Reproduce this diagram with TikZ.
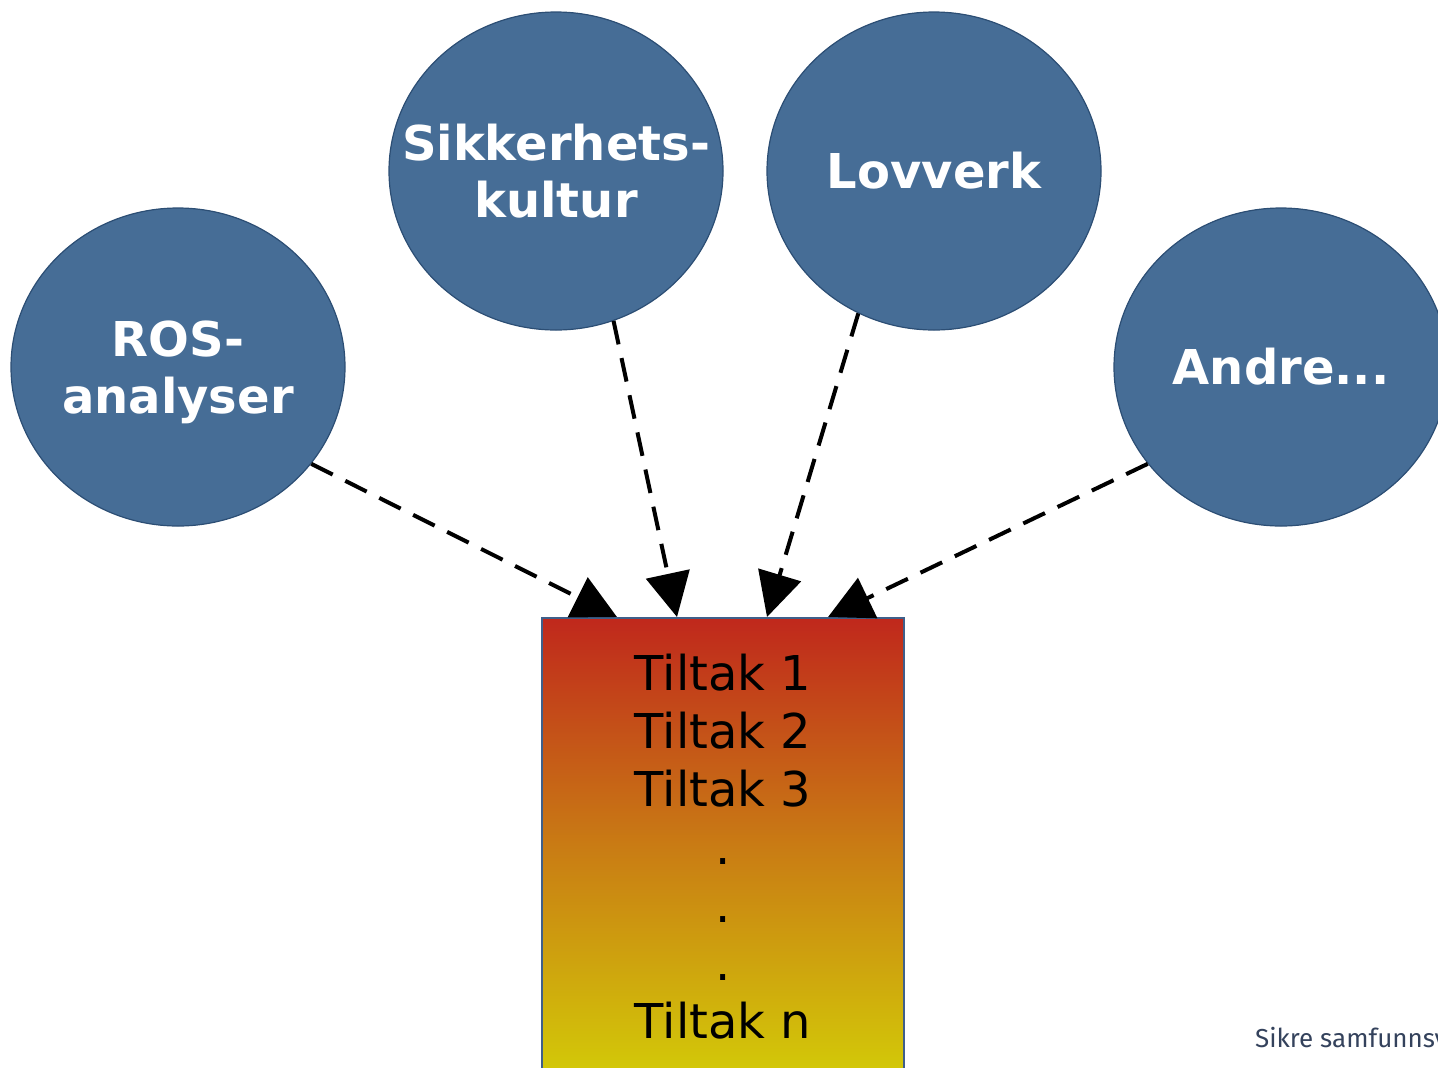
\documentclass[tikz,border=0pt]{standalone}
\usepackage{fontspec}
\setmainfont{DejaVu Sans}
\newfontfamily\footfont{Fira Sans}
\usetikzlibrary{arrows.meta,calc,shapes.geometric}

\definecolor{topicfill}{RGB}{70,109,150}
\definecolor{topicline}{RGB}{44,78,116}
\definecolor{boxline}{RGB}{63,95,138}
\definecolor{boxtop}{RGB}{192,40,28}
\definecolor{boxmid}{RGB}{201,124,20}
\definecolor{boxbottom}{RGB}{211,202,8}
\definecolor{footcol}{RGB}{52,66,92}

\begin{document}
\begin{tikzpicture}[
        x=0.5pt, y=-0.5pt,
        topic/.style={
            ellipse,
            draw=topicline,
            line width=0.6pt,
            fill=topicfill,
            minimum width=167pt,
            minimum height=159pt,
            inner xsep=-20pt,
            inner ysep=0pt,
            align=center,
            text=white,
            font=\fontsize{24}{28.5}\selectfont\bfseries
        },
        measures/.style={
            draw=boxline,
            line width=1pt,
            top color=boxtop,
            bottom color=boxbottom,
            middle color=boxmid,
            minimum width=181pt,
            minimum height=229pt,
            inner sep=0pt,
            align=center,
            font=\fontsize{24}{29}\selectfont
        },
        feed/.style={
            line width=2pt,
            dash pattern=on 12pt off 7pt,
            -{Triangle[length=22pt,width=22pt]}
        }
    ]

    \useasboundingbox (0,0) rectangle (1438,1067);
    \clip (0,0) rectangle (1438,1067);

    \node[topic, text depth=0pt] (ros) at (178,367) {ROS-\\analyser};
    \node[topic] (kultur) at (556,171) {Sikkerhets-\\kultur};
    \node[topic] (lov) at (934,171) {Lovverk};
    \node[topic] (andre) at (1281,367) {Andre...};

    \node[measures, anchor=north west] (tiltak) at (541,617)
        {Tiltak 1\\Tiltak 2\\Tiltak 3\\.\\.\\.\\Tiltak n};

    \draw[feed] (ros.-36) -- ($(tiltak.north west)+(76,0)$);
    \draw[feed] (kultur.-69) -- ($(tiltak.north west)+(136,0)$);
    \draw[feed] (lov.-118) -- ($(tiltak.north west)+(226,0)$);
    \draw[feed] (andre.-144) -- ($(tiltak.north west)+(287,0)$);

    \node[anchor=base west, text=footcol, font=\footfont\fontsize{13}{15}\selectfont]
        (footer) at (1248,1047) {Sikre samfunnsv};

\end{tikzpicture}
\end{document}
